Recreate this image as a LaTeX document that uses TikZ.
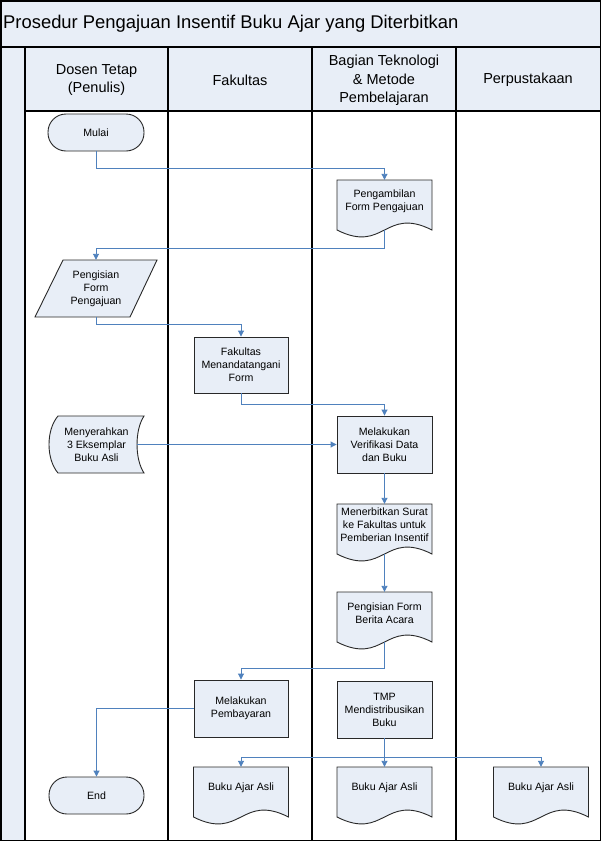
\documentclass[tikz,border=0pt]{standalone}
\usepackage{fontspec}
\setmainfont{Liberation Sans}
\usetikzlibrary{arrows.meta}
\definecolor{bgblue}{RGB}{232,238,247}
\definecolor{shapefill}{RGB}{232,238,247}
\definecolor{connblue}{RGB}{79,129,189}
\definecolor{outlinegray}{RGB}{40,40,40}
\tikzset{
  lanerule/.style={line width=1.5pt, draw=black},
  shapeout/.style={draw=outlinegray, line width=0.9pt, fill=shapefill},
  txt/.style={align=center, font=\fontsize{10.6}{13}\selectfont, inner sep=1pt},
  procbox/.style={txt, shapeout, rectangle, minimum width=95pt, minimum height=57pt},
  termbox/.style={txt, shapeout, rectangle, rounded corners=18pt, minimum width=96pt, minimum height=37pt},
  plainbox/.style={txt, minimum width=95pt, minimum height=57pt},
  docbox/.style={txt, minimum width=95pt, minimum height=42pt},
  conn/.style={draw=connblue, line width=0.9pt, -{Triangle[length=6pt,width=6pt]}},
  headtxt/.style={align=center, font=\fontsize{14.5}{18.5}\selectfont, inner sep=0pt},
}
\newcommand{\docshape}[4]{%
  \path[shapeout] (#2-47.5,#3) -- (#2-47.5,#3+50) .. controls (#2,#3+74) and (#2,#3+26) .. (#2+47.5,#3+50) -- (#2+47.5,#3) -- cycle;
  \node[docbox] (#1) at (#2,#3+21) {#4};
  \coordinate (#1-b) at (#2,#3+50);
}
\begin{document}
\begin{tikzpicture}[x=1pt,y=-1pt]
\useasboundingbox (0,0) rectangle (601,841);
% backgrounds
\fill[bgblue] (0,0) rectangle (601,47);
\fill[bgblue] (0,47) rectangle (25,841);
\fill[bgblue] (25,47) rectangle (601,111);
\fill[white] (25,111) rectangle (600,840);
% rules
\draw[lanerule] (0.75,0.75) rectangle (600.25,840.25);
\draw[lanerule] (0,47) -- (601,47);
\draw[lanerule] (25,111) -- (601,111);
\foreach \x in {25,168,312,456} \draw[lanerule] (\x,47) -- (\x,841);
% title and headers
\node[anchor=west, font=\fontsize{18.4}{22}\selectfont, inner sep=0pt] (title) at (3,24) {Prosedur Pengajuan Insentif Buku Ajar yang Diterbitkan};
\node[headtxt] (h1) at (96.5,80) {Dosen Tetap\\(Penulis)};
\node[headtxt] (h2) at (240,80) {Fakultas};
\node[headtxt] (h3) at (384,80.5) {Bagian Teknologi\\\& Metode\\Pembelajaran};
\node[headtxt] (h4) at (528,80) {Perpustakaan};
% shapes
\node[termbox] (mulai) at (96,132.5) {Mulai};
\docshape{peng}{384.5}{180}{Pengambilan\\Form Pengajuan}
\path[shapeout] (63,260) -- (157,260) -- (130,317) -- (35,317) -- cycle;
\node[plainbox] (pengisian) at (96,288.5) {Pengisian\\Form\\Pengajuan};
\node[procbox, minimum width=94pt, minimum height=56pt] (fak) at (241,365) {Fakultas\\Menandatangani\\Form};
\node[procbox] (verif) at (384.5,444.5) {Melakukan\\Verifikasi Data\\dan Buku};
\path[shapeout] (58,416) -- (144,416) .. controls (134.7,430) and (134.7,459) .. (144,473) -- (58,473) .. controls (46,459) and (46,430) .. (58,416) -- cycle;
\node[txt, minimum width=81pt, minimum height=57pt] (serah) at (96.5,444.5) {Menyerahkan\\3 Eksemplar\\Buku Asli};
\docshape{terbit}{384.5}{504}{Menerbitkan Surat\\ke Fakultas untuk\\Pemberian Insentif}
\docshape{berita}{384.5}{592}{Pengisian Form\\Berita Acara}
\node[procbox, minimum width=94pt] (bayar) at (241,708.5) {Melakukan\\Pembayaran};
\node[procbox] (tmp) at (384.5,709.5) {TMP\\Mendistribusikan\\Buku};
\node[termbox, minimum width=95pt] (end) at (96.5,795.5) {End};
\docshape{buku1}{241}{767}{Buku Ajar Asli}
\docshape{buku2}{384.5}{767}{Buku Ajar Asli}
\docshape{buku3}{541}{767}{Buku Ajar Asli}
% connectors
\draw[conn] (mulai.south) -- ++(0,17) -| (peng.north);
\draw[conn] (peng-b) -- ++(0,18) -| (pengisian.north);
\draw[conn] (pengisian.south) -- ++(0,7) -| (fak.north);
\draw[conn] (fak.south) -- ++(0,11) -| (verif.north);
\draw[conn] (serah.east) -- (verif.west);
\draw[conn] (verif.south) -- (terbit.north);
\draw[conn] (terbit-b) -- (berita.north);
\draw[conn] (berita-b) -- ++(0,26) -| (bayar.north);
\draw[conn] (bayar.west) -| (end.north);
\draw[conn] (tmp.south) -- (buku2.north);
\draw[conn] (tmp.south) -- ++(0,19) -| (buku1.north);
\draw[conn] (tmp.south) -- ++(0,19) -| (buku3.north);
\end{tikzpicture}
\end{document}
